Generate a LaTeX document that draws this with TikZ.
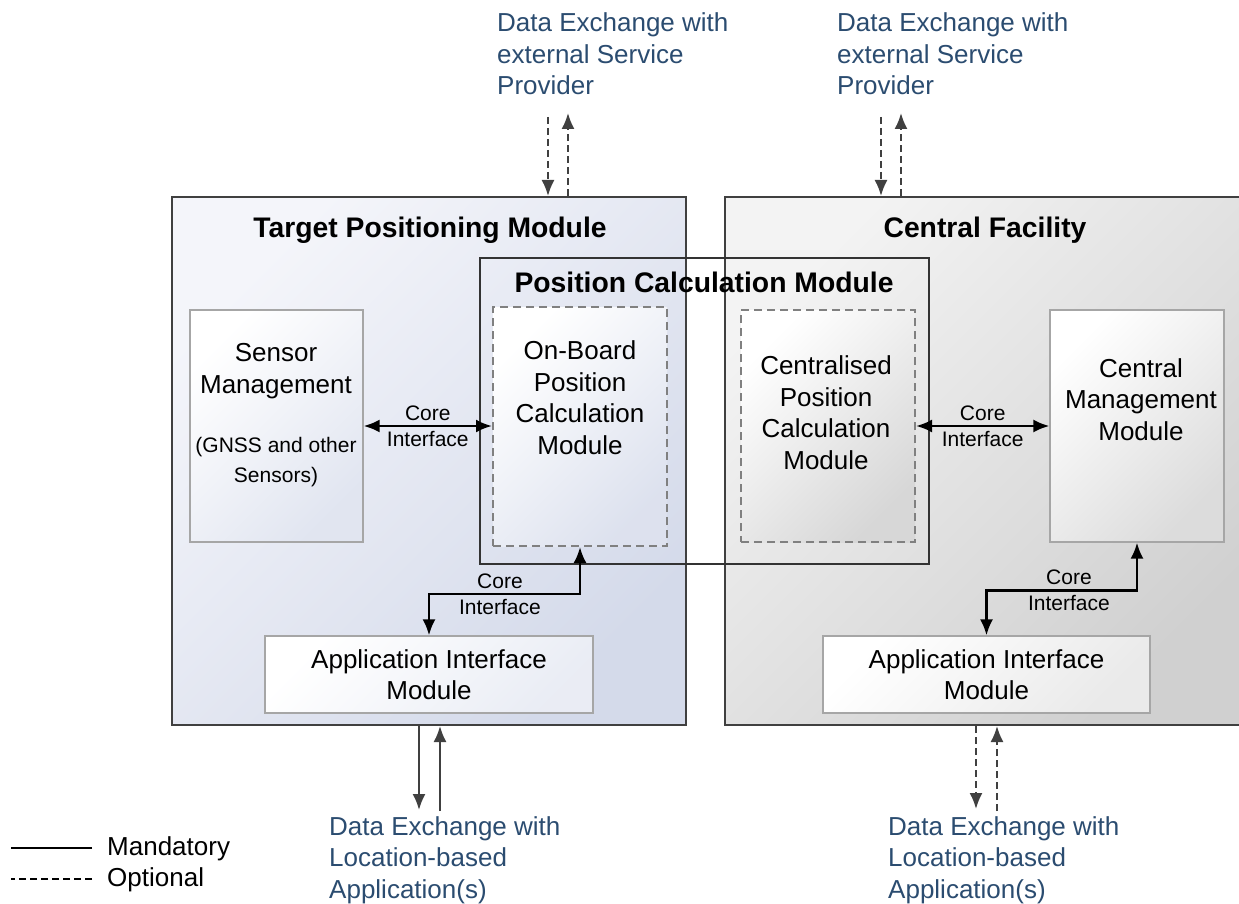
\documentclass[tikz,border=0pt]{standalone}
\usepackage{fontspec}
\setmainfont{Liberation Sans}
\usetikzlibrary{arrows,arrows.meta,positioning}
\definecolor{xblue}{HTML}{2B4C70}
\definecolor{edgegray}{HTML}{404040}
\definecolor{tpmlight}{HTML}{F4F5FA}
\definecolor{tpmdark}{HTML}{D4DAEA}
\definecolor{cflight}{HTML}{F3F3F3}
\definecolor{cfdark}{HTML}{D0D0D0}

\begin{document}
\begin{tikzpicture}[x=1pt,y=-1pt,
  >={Latex[length=16pt,width=13pt]},
  outer/.style={draw=edgegray,line width=2pt,inner sep=0pt,top color=#1light,bottom color=#1dark,shading angle=45},
  title/.style={font=\bfseries\fontsize{28.3}{32}\selectfont,inner sep=0pt,anchor=base},
  box/.style={draw=black!35,line width=1.2pt,inner sep=0pt,top color=white,bottom color=#1,shading angle=45},
  dbox/.style={draw=black!50,line width=2pt,dash pattern=on 8pt off 5pt,inner sep=0pt,top color=white,bottom color=#1,shading angle=45},
  txt/.style={font=\fontsize{26}{31.5}\selectfont,align=center,inner sep=0pt,anchor=base},
  small/.style={font=\fontsize{21}{30}\selectfont,align=center,inner sep=0pt,anchor=base},
  corelbl/.style={font=\fontsize{21}{26}\selectfont,align=center,inner sep=0pt},
  core/.style={<->,line width=2.5pt},
  xchg/.style={->,draw=edgegray,line width=2pt},
  opt/.style={dash pattern=on 7pt off 4pt},
  xtxt/.style={font=\fontsize{26}{31.5}\selectfont,text=xblue,align=left,inner sep=0pt,anchor=base west},
  legtxt/.style={font=\fontsize{26}{31.5}\selectfont,inner sep=0pt,anchor=base west}]
  \useasboundingbox (0,0) rectangle (1239,904);

  % frames
  \node[outer=tpm,minimum width=514,minimum height=528] (tpm) at (429,461) {};
  \node[outer=cf,minimum width=518,minimum height=528] (cf) at (984,461) {};
  \node[draw=black!80,line width=2pt,minimum width=449,minimum height=306] (pcm) at (704.5,411) {};
  \node[title] (tpmT) at (430,237) {Target Positioning Module};
  \node[title] (cfT) at (985,237) {Central Facility};
  \node[title] (pcmT) at (704,292) {Position Calculation Module};

  % modules
  \node[box=tpmdark!70,minimum width=173,minimum height=232] (sensor) at (276.5,426) {};
  \node[dbox=tpmdark!80,minimum width=174,minimum height=239] (onboard) at (580,426.5) {};
  \node[dbox=cfdark!85,minimum width=174,minimum height=232] (central) at (828,426) {};
  \node[box=cfdark!75,minimum width=174,minimum height=232] (cmm) at (1137,426) {};
  \node[box=tpmdark!50,minimum width=328,minimum height=77,txt,anchor=center] (appL) at (429,674.5) {Application Interface\\Module};
  \node[box=cfdark!45,minimum width=327,minimum height=77,txt,anchor=center] (appR) at (986.5,674.5) {Application Interface\\Module};
  \node[txt] (sensorT) at (276,393) {Sensor\\Management};
  \node[small] (gnssT) at (276,482) {(GNSS and other\\Sensors)};
  \node[txt] (onboardT) at (580,454) {On-Board\\Position\\Calculation\\Module};
  \node[txt] (centralT) at (826,469) {Centralised\\Position\\Calculation\\Module};
  \node[txt] (cmmT) at (1141,440) {Central\\Management\\Module};

  % core interfaces
  \draw[core] (sensor.east) -- node[corelbl]{Core\\Interface} (sensor.east -| onboard.west);
  \draw[core] (central.east) -- node[corelbl]{Core\\Interface} (central.east -| cmm.west);
  \draw[core] (onboard.south) -- ++(0,47) -| node[pos=.265,corelbl]{Core\\Interface} (appL.north);
  \draw[core] (cmm.south) -- ++(0,48) -| node[pos=.226,corelbl]{Core\\Interface} (appR.north);

  % data exchange
  \coordinate (spInA) at (548,117);
  \coordinate (spOutA) at (568,113);
  \coordinate (spInB) at (881,117);
  \coordinate (spOutB) at (901,113);
  \draw[xchg,opt] (spInA) -- (spInA |- tpm.north);
  \draw[xchg,opt] (spOutA |- tpm.north) -- (spOutA);
  \draw[xchg,opt] (spInB) -- (spInB |- cf.north);
  \draw[xchg,opt] (spOutB |- cf.north) -- (spOutB);
  \coordinate (lbOutA) at (419,810);
  \coordinate (lbInA) at (440,811);
  \coordinate (lbOutB) at (976,809);
  \coordinate (lbInB) at (997,811);
  \draw[xchg] (lbOutA |- tpm.south) -- (lbOutA);
  \draw[xchg] (lbInA) -- (lbInA |- tpm.south);
  \draw[xchg,opt] (lbOutB |- cf.south) -- (lbOutB);
  \draw[xchg,opt] (lbInB) -- (lbInB |- cf.south);

  \node[xtxt] (spA) at (497,95) {Data Exchange with\\external Service\\Provider};
  \node[xtxt] (spB) at (837,95) {Data Exchange with\\external Service\\Provider};
  \node[xtxt] (lbA) at (329,898) {Data Exchange with\\Location-based\\Application(s)};
  \node[xtxt] (lbB) at (888,898) {Data Exchange with\\Location-based\\Application(s)};

  % legend
  \node[legtxt] (mand) at (107,855) {Mandatory};
  \node[legtxt] (optl) at (107,886) {Optional};
  \draw[line width=2pt] ([xshift=-15pt]mand.west) -- ++(-81,0);
  \draw[line width=2pt,opt] ([xshift=-15pt]optl.west) -- ++(-81,0);
\end{tikzpicture}
\end{document}
